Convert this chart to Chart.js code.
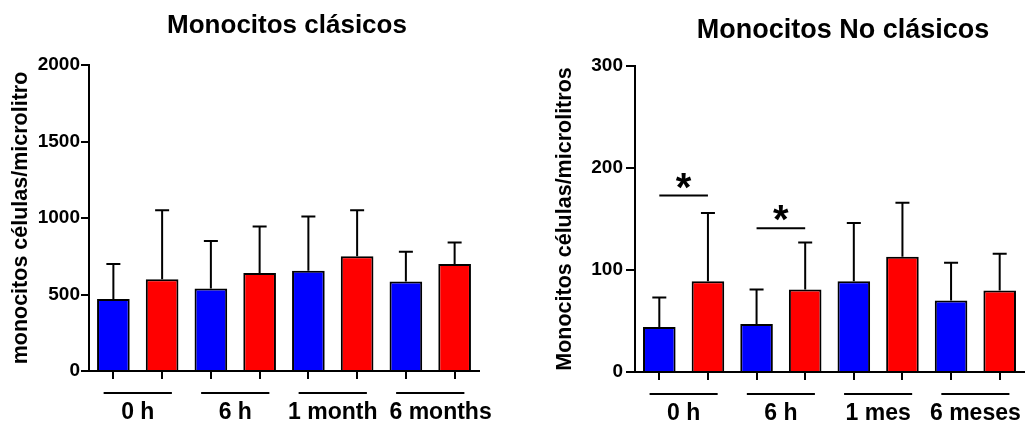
<!DOCTYPE html>
<html><head><meta charset="utf-8">
<script src="https://cdn.jsdelivr.net/npm/chart.js@4.4.0/dist/chart.umd.min.js"></script>
<style>
body{margin:0;background:#fff;font-family:"Liberation Sans",Arial,sans-serif}
#wrap{position:relative;width:1026px;height:424px;overflow:hidden}
.box{position:absolute;top:0;height:424px}
.ttl{position:absolute;font-weight:bold;line-height:1;white-space:nowrap;transform:translateX(-50%);color:#000}
</style></head><body>
<div id="wrap">
  <div class="box" style="left:0;width:513px"><canvas id="c1"></canvas></div>
  <div class="box" style="left:513px;width:513px"><canvas id="c2"></canvas></div>
  <div class="ttl" style="left:287px;top:11px;font-size:26px">Monocitos clásicos</div>
  <div class="ttl" style="left:843px;top:16px;font-size:27px">Monocitos No clásicos</div>
</div>
<script>
const FONT='"Liberation Sans", Arial, sans-serif';
const pairColors=['#0000ff','#ff0000'];

// left panel: classical monocytes
const clasGroups=['0 h','6 h','1 month','6 months'];
const clasMean=[470,600,540,640,655,750,585,700];
const clasSD=[230,450,310,305,355,300,195,140];
const clasTicks=[0,500,1000,1500,2000];

// right panel: non-classical monocytes
const noClasGroups=['0 h','6 h','1 mes','6 meses'];
const noClasMean=[44,89,47,81,89,113,70,80];
const noClasSD=[29,67,34,46,57,53,37,36];
const noClasTicks=[0,100,200,300];
const noClasSig=[[0,1,173],[2,3,141]]; // bar a, bar b, bracket level

// error bars, group labels under the axis, significance marks
function extras(groups,sd,sig){
  return {id:'extras',afterDatasetsDraw(chart){
    const {ctx,chartArea:a,scales:{x,y}}=chart;
    const mean=chart.data.datasets[0].data;
    ctx.save(); ctx.strokeStyle='#000'; ctx.fillStyle='#000'; ctx.lineWidth=2;
    sd.forEach((e,i)=>{
      const px=x.getPixelForValue(i), y0=y.getPixelForValue(mean[i]), y1=y.getPixelForValue(mean[i]+e);
      ctx.beginPath(); ctx.moveTo(px,y0); ctx.lineTo(px,y1); ctx.moveTo(px-7,y1); ctx.lineTo(px+7,y1); ctx.stroke();
    });
    ctx.font='bold 23px '+FONT; ctx.textAlign='left'; ctx.textBaseline='alphabetic';
    let lastRight=-1e9;
    groups.forEach((g,k)=>{
      const x1=x.getPixelForValue(2*k), x2=x.getPixelForValue(2*k+1), w=x2-x1, ly=a.bottom+22;
      ctx.beginPath(); ctx.moveTo(x1-0.2*w,ly); ctx.lineTo(x2+0.2*w,ly); ctx.stroke();
      const tw=ctx.measureText(g).width;
      let left=(x1+x2)/2-tw/2;
      if(left<lastRight+12) left=lastRight+12; // push right if it would touch the previous label
      ctx.fillText(g,left,a.bottom+48);
      lastRight=left+tw;
    });
    ctx.font='bold 40px '+FONT; ctx.textAlign='center';
    sig.forEach(([i,j,lvl])=>{
      const x1=x.getPixelForValue(i), x2=x.getPixelForValue(j), ly=y.getPixelForValue(lvl);
      ctx.beginPath(); ctx.moveTo(x1,ly); ctx.lineTo(x2,ly); ctx.stroke();
      ctx.fillText('*',(x1+x2)/2,ly+5);
    });
    ctx.restore();
  }};
}

function makeChart(id,o){
  const labels=o.groups.flatMap(g=>[g+' |1',g+' |2']);
  return new Chart(document.getElementById(id),{
    type:'bar',
    data:{labels,datasets:[{data:o.mean,backgroundColor:o.mean.map((v,i)=>pairColors[i%2]),
      borderColor:'#000',borderWidth:2,barPercentage:0.67,categoryPercentage:1}]},
    options:{responsive:true,maintainAspectRatio:false,devicePixelRatio:1,animation:false,events:[],
      layout:{padding:{top:o.top,right:o.right,left:0,bottom:0}},
      plugins:{legend:{display:false},tooltip:{enabled:false}},
      scales:{
        x:{ticks:{display:false},grid:{offset:false,drawOnChartArea:false,color:'#000',lineWidth:2,tickLength:8},
           border:{color:'#000',width:2},afterFit(s){s.height=o.xh;}},
        y:{min:o.ticks[0],max:o.ticks[o.ticks.length-1],
           afterBuildTicks(s){s.ticks=o.ticks.map(v=>({value:v}));},
           ticks:{color:'#000',font:{family:FONT,size:19,weight:'bold'},padding:o.tp,callback:v=>String(v)},
           grid:{drawOnChartArea:false,color:'#000',lineWidth:2,tickLength:o.tl},
           border:{color:'#000',width:2},
           title:{display:true,text:o.ytitle,color:'#000',font:{family:FONT,size:21.5,weight:'bold'},padding:{top:o.ttp,bottom:0}},
           afterFit(s){s.width=o.yw;}}
      }},
    plugins:[extras(o.groups,o.sd,o.sig)]
  });
}

makeChart('c1',{groups:clasGroups,mean:clasMean,sd:clasSD,sig:[],ticks:clasTicks,
  ytitle:'monocitos células/microlitro',top:65,right:34,xh:53,yw:89,tl:8,tp:1,ttp:8});
makeChart('c2',{groups:noClasGroups,mean:noClasMean,sd:noClasSD,sig:noClasSig,ticks:noClasTicks,
  ytitle:'Monocitos células/microlitros',top:66,right:2,xh:52,yw:122,tl:9,tp:3,ttp:39});
</script>
</body></html>
